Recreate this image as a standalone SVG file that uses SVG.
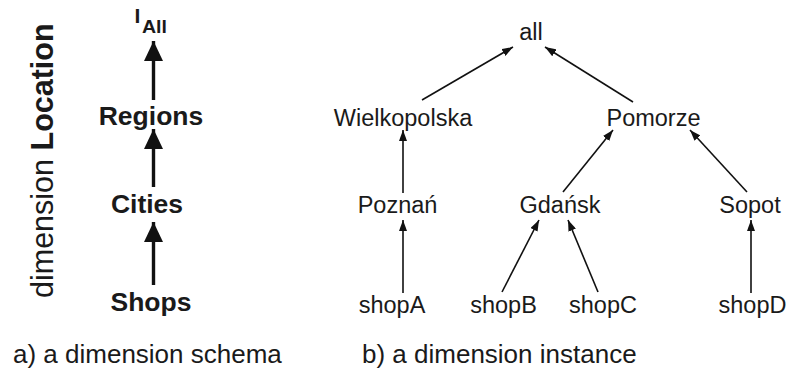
<svg xmlns="http://www.w3.org/2000/svg" width="789" height="372" viewBox="0 0 789 372">
  <style>
    text { font-family: "Liberation Sans", Arial, sans-serif; fill: #1a1a1a; }
    .lvl { font-size: 26.5px; font-weight: bold; text-anchor: middle; }
    .inst { font-size: 23.5px; text-anchor: middle; }
    .cap { font-size: 26px; }
    .thick { stroke: #111; stroke-width: 3.4; fill: none; }
    .thin { stroke: #111; stroke-width: 1.6; fill: none; }
  </style>
  <defs>
    <marker id="headBig" markerUnits="userSpaceOnUse" markerWidth="20" markerHeight="20" refX="20" refY="9.5" orient="auto">
      <path d="M0,0 L20,9.5 L0,19 z" fill="#111"/>
    </marker>
    <marker id="headSmall" markerUnits="userSpaceOnUse" markerWidth="11" markerHeight="8" refX="11" refY="4" orient="auto">
      <path d="M0,0 L11,4 L0,8 z" fill="#111"/>
    </marker>
  </defs>
  <rect width="789" height="372" fill="#ffffff"/>

  <!-- a) schema -->
  <text transform="translate(53,298) rotate(-90)" style="font-size:30.5px">dimension <tspan font-weight="bold">Location</tspan></text>

  <g id="level-all">
    <text x="134.5" y="23" style="font-size:21px;font-weight:bold">I</text>
    <text x="142" y="33" style="font-size:18px;font-weight:bold" textLength="25" lengthAdjust="spacingAndGlyphs">All</text>
  </g>
  <g id="level-regions"><text class="lvl" x="151" y="125">Regions</text></g>
  <g id="level-cities"><text class="lvl" x="147" y="213">Cities</text></g>
  <g id="level-shops"><text class="lvl" x="151" y="311">Shops</text></g>

  <g id="schema-edges">
    <line class="thick" x1="153.5" y1="100" x2="153.5" y2="41" marker-end="url(#headBig)"/>
    <line class="thick" x1="153.5" y1="187" x2="153.5" y2="129" marker-end="url(#headBig)"/>
    <line class="thick" x1="153.5" y1="285" x2="153.5" y2="222" marker-end="url(#headBig)"/>
  </g>

  <!-- b) instance -->
  <g id="n-all"><text class="inst" x="531" y="40">all</text></g>
  <g id="n-wielkopolska"><text class="inst" x="403" y="126">Wielkopolska</text></g>
  <g id="n-pomorze"><text class="inst" x="653.5" y="126">Pomorze</text></g>
  <g id="n-poznan"><text class="inst" x="397.5" y="213">Poznań</text></g>
  <g id="n-gdansk"><text class="inst" x="560" y="213">Gdańsk</text></g>
  <g id="n-sopot"><text class="inst" x="750" y="213">Sopot</text></g>
  <g id="n-shopA"><text class="inst" x="392" y="313">shopA</text></g>
  <g id="n-shopB"><text class="inst" x="503.5" y="313">shopB</text></g>
  <g id="n-shopC"><text class="inst" x="603" y="313">shopC</text></g>
  <g id="n-shopD"><text class="inst" x="752.5" y="313">shopD</text></g>

  <g id="instance-edges">
    <line class="thin" x1="422" y1="100" x2="513" y2="47" marker-end="url(#headSmall)"/>
    <line class="thin" x1="633" y1="102" x2="545" y2="47" marker-end="url(#headSmall)"/>
    <line class="thin" x1="403" y1="193" x2="403" y2="130" marker-end="url(#headSmall)"/>
    <line class="thin" x1="563" y1="192" x2="613" y2="130" marker-end="url(#headSmall)"/>
    <line class="thin" x1="747" y1="192" x2="690" y2="130" marker-end="url(#headSmall)"/>
    <line class="thin" x1="403" y1="293" x2="403" y2="220" marker-end="url(#headSmall)"/>
    <line class="thin" x1="502" y1="292" x2="539" y2="220" marker-end="url(#headSmall)"/>
    <line class="thin" x1="598" y1="292" x2="568" y2="220" marker-end="url(#headSmall)"/>
    <line class="thin" x1="751" y1="293" x2="751" y2="220" marker-end="url(#headSmall)"/>
  </g>

  <!-- captions -->
  <text class="cap" x="13" y="363">a) a dimension schema</text>
  <text class="cap" x="362" y="363">b) a dimension instance</text>
</svg>
